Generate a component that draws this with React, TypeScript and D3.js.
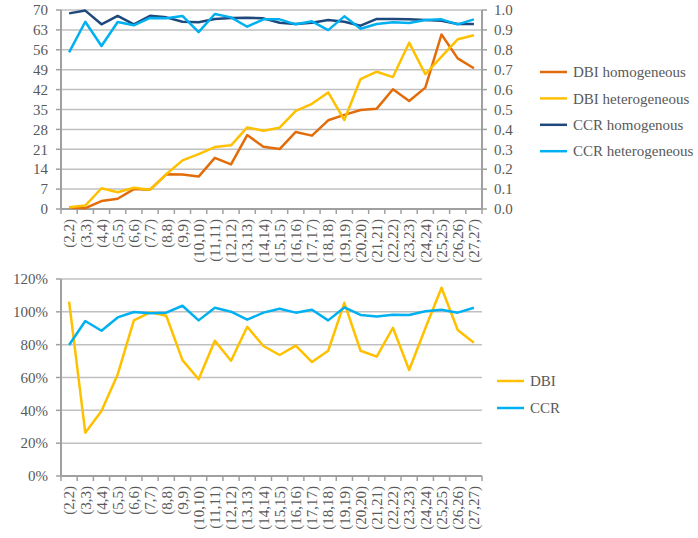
import * as d3 from 'd3';
import { useEffect, useRef } from 'react';

const categories = [
  '(2,2)', '(3,3)', '(4,4)', '(5,5)', '(6,6)', '(7,7)', '(8,8)', '(9,9)', '(10,10)',
  '(11,11)', '(12,12)', '(13,13)', '(14,14)', '(15,15)', '(16,16)', '(17,17)', '(18,18)',
  '(19,19)', '(20,20)', '(21,21)', '(22,22)', '(23,23)', '(24,24)', '(25,25)', '(26,26)', '(27,27)',
];

// top chart, left axis
const dbiHomogeneous = [
  0.5, 0.3, 2.8, 3.6, 7.0, 6.8, 12.2, 12.1, 11.4, 18.0, 15.7, 26.0, 21.9, 21.1, 27.1, 25.8,
  31.2, 33.1, 34.8, 35.3, 42.1, 38.0, 42.7, 61.4, 53.0, 49.5,
];
const dbiHeterogeneous = [
  0.6, 1.2, 7.3, 5.9, 7.5, 6.8, 12.2, 17.1, 19.3, 21.8, 22.4, 28.7, 27.5, 28.6, 34.5, 37.0,
  41.0, 31.3, 45.7, 48.3, 46.4, 58.5, 47.4, 53.6, 59.7, 61.1,
];
// top chart, right axis
const ccrHomogenous = [
  0.983, 0.997, 0.928, 0.97, 0.928, 0.971, 0.963, 0.941, 0.938, 0.955, 0.96, 0.961, 0.958,
  0.936, 0.93, 0.936, 0.95, 0.941, 0.921, 0.955, 0.955, 0.953, 0.95, 0.946, 0.93, 0.93,
];
const ccrHeterogeneous = [
  0.787, 0.941, 0.819, 0.94, 0.923, 0.96, 0.958, 0.97, 0.889, 0.98, 0.963, 0.916, 0.953,
  0.953, 0.928, 0.943, 0.899, 0.968, 0.906, 0.93, 0.938, 0.935, 0.95, 0.953, 0.928, 0.953,
];

// bottom chart, percent
const dbiRatio = [
  106.2, 26.4, 39.6, 61.9, 94.8, 99.7, 97.6, 70.6, 58.9, 82.4, 70.2, 90.9, 79.2, 73.7, 79.4,
  69.4, 76.3, 105.5, 76.3, 72.7, 90.3, 64.6, 90.0, 114.7, 88.9, 81.2,
];
const ccrRatio = [
  79.8, 94.4, 88.5, 96.6, 99.9, 99.1, 99.5, 103.7, 94.8, 102.5, 100.1, 95.2, 99.5, 101.9, 99.5,
  101.3, 94.8, 102.7, 98.1, 97.2, 98.2, 98.1, 100.3, 101.3, 99.5, 102.5,
];

const leftTicks = [0, 7, 14, 21, 28, 35, 42, 49, 56, 63, 70];
const rightTicks = [0, 0.1, 0.2, 0.3, 0.4, 0.5, 0.6, 0.7, 0.8, 0.9, 1.0];
const pctTicks = [0, 20, 40, 60, 80, 100, 120];

const ORANGE = '#e36c0a';
const YELLOW = '#ffc000';
const NAVY = '#1f497d';
const CYAN = '#00b0f0';
const GRID = '#c0c0c0';
const AXIS = '#a0a0a0';
const TEXT = '#595959';
const FONT = "'Liberation Serif', 'DejaVu Serif', serif";

export default function App() {
  const ref = useRef<SVGSVGElement>(null);

  useEffect(() => {
    const svg = d3.select(ref.current);
    svg.selectAll('*').remove();

    const plotLeft = 61;
    const plotRight = 482;
    const x = d3.scaleBand<string>().domain(categories).range([plotLeft, plotRight]).padding(0);
    const cx = (i: number) => x(categories[i])! + x.bandwidth() / 2;

    const drawFrame = (
      g: d3.Selection<SVGGElement, unknown, null, undefined>,
      y: d3.ScaleLinear<number, number>,
      ticks: number[],
      fmt: (v: number) => string,
      bottom: number,
    ) => {
      // gridlines
      g.append('g')
        .selectAll('line')
        .data(ticks.slice(1))
        .join('line')
        .attr('x1', plotLeft)
        .attr('x2', plotRight)
        .attr('y1', (d) => y(d))
        .attr('y2', (d) => y(d))
        .attr('stroke', GRID)
        .attr('stroke-width', 1.5);

      // left axis
      g.append('line')
        .attr('x1', plotLeft)
        .attr('x2', plotLeft)
        .attr('y1', y(ticks[ticks.length - 1]))
        .attr('y2', bottom)
        .attr('stroke', AXIS)
        .attr('stroke-width', 2);
      g.append('g')
        .selectAll('line')
        .data(ticks)
        .join('line')
        .attr('x1', plotLeft - 5)
        .attr('x2', plotLeft)
        .attr('y1', (d) => y(d))
        .attr('y2', (d) => y(d))
        .attr('stroke', AXIS)
        .attr('stroke-width', 1.5);
      g.append('g')
        .selectAll('text')
        .data(ticks)
        .join('text')
        .attr('x', 48)
        .attr('y', (d) => y(d))
        .attr('dy', '0.35em')
        .attr('text-anchor', 'end')
        .attr('fill', TEXT)
        .text(fmt);

      // x axis
      g.append('line')
        .attr('x1', plotLeft)
        .attr('x2', plotRight)
        .attr('y1', bottom)
        .attr('y2', bottom)
        .attr('stroke', AXIS)
        .attr('stroke-width', 2);
      const bounds = categories.map((c) => x(c)!).concat([plotRight]);
      g.append('g')
        .selectAll('line')
        .data(bounds)
        .join('line')
        .attr('x1', (d) => d)
        .attr('x2', (d) => d)
        .attr('y1', bottom)
        .attr('y2', bottom + 5)
        .attr('stroke', AXIS)
        .attr('stroke-width', 1.5);
      g.append('g')
        .selectAll('text')
        .data(categories)
        .join('text')
        .attr('transform', (d, i) => `translate(${cx(i)},${bottom + 10}) rotate(-90)`)
        .attr('dy', '0.35em')
        .attr('text-anchor', 'end')
        .attr('fill', TEXT)
        .text((d) => d);
    };

    const drawLine = (
      g: d3.Selection<SVGGElement, unknown, null, undefined>,
      values: number[],
      y: d3.ScaleLinear<number, number>,
      color: string,
    ) => {
      const line = d3
        .line<number>()
        .x((d, i) => cx(i))
        .y((d) => y(d));
      g.append('path')
        .datum(values)
        .attr('d', line)
        .attr('fill', 'none')
        .attr('stroke', color)
        .attr('stroke-width', 2.5)
        .attr('stroke-linejoin', 'round');
    };

    const drawLegend = (
      g: d3.Selection<SVGGElement, unknown, null, undefined>,
      items: { label: string; color: string }[],
      x0: number,
      y0: number,
      step: number,
    ) => {
      const item = g
        .append('g')
        .selectAll('g')
        .data(items)
        .join('g')
        .attr('transform', (d, i) => `translate(${x0},${y0 + i * step})`);
      item
        .append('line')
        .attr('x1', 0)
        .attr('x2', 27)
        .attr('stroke', (d) => d.color)
        .attr('stroke-width', 2.5);
      item
        .append('text')
        .attr('x', 33)
        .attr('dy', '0.35em')
        .attr('fill', TEXT)
        .text((d) => d.label);
    };

    // ---- top chart ----
    const top = svg.append('g');
    const yLeft = d3.scaleLinear().domain([0, 70]).range([209, 10]);
    const yRight = d3.scaleLinear().domain([0, 1]).range([209, 10]);
    drawFrame(top, yLeft, leftTicks, (d) => String(d), 209);

    // right axis
    top
      .append('line')
      .attr('x1', plotRight)
      .attr('x2', plotRight)
      .attr('y1', 10)
      .attr('y2', 209)
      .attr('stroke', AXIS)
      .attr('stroke-width', 2);
    top
      .append('g')
      .selectAll('line')
      .data(rightTicks)
      .join('line')
      .attr('x1', plotRight)
      .attr('x2', plotRight + 5)
      .attr('y1', (d) => yRight(d))
      .attr('y2', (d) => yRight(d))
      .attr('stroke', AXIS)
      .attr('stroke-width', 1.5);
    top
      .append('g')
      .selectAll('text')
      .data(rightTicks)
      .join('text')
      .attr('x', 494)
      .attr('y', (d) => yRight(d))
      .attr('dy', '0.35em')
      .attr('fill', TEXT)
      .text((d) => d3.format('.1f')(d));

    drawLine(top, dbiHomogeneous, yLeft, ORANGE);
    drawLine(top, dbiHeterogeneous, yLeft, YELLOW);
    drawLine(top, ccrHomogenous, yRight, NAVY);
    drawLine(top, ccrHeterogeneous, yRight, CYAN);

    drawLegend(
      top,
      [
        { label: 'DBI homogeneous', color: ORANGE },
        { label: 'DBI heterogeneous', color: YELLOW },
        { label: 'CCR homogenous', color: NAVY },
        { label: 'CCR heterogeneous', color: CYAN },
      ],
      540,
      72,
      26.4,
    );

    // ---- bottom chart ----
    const bot = svg.append('g');
    const yPct = d3.scaleLinear().domain([0, 120]).range([476, 279]);
    drawFrame(bot, yPct, pctTicks, (d) => `${d}%`, 476);

    drawLine(bot, dbiRatio, yPct, YELLOW);
    drawLine(bot, ccrRatio, yPct, CYAN);

    drawLegend(
      bot,
      [
        { label: 'DBI', color: YELLOW },
        { label: 'CCR', color: CYAN },
      ],
      497,
      381,
      27,
    );
  }, []);

  return (
    <svg
      ref={ref}
      width={698}
      height={538}
      style={{
        position: 'absolute',
        left: 0,
        top: 0,
        background: '#fff',
        fontFamily: FONT,
        fontSize: 15,
      }}
    />
  );
}
